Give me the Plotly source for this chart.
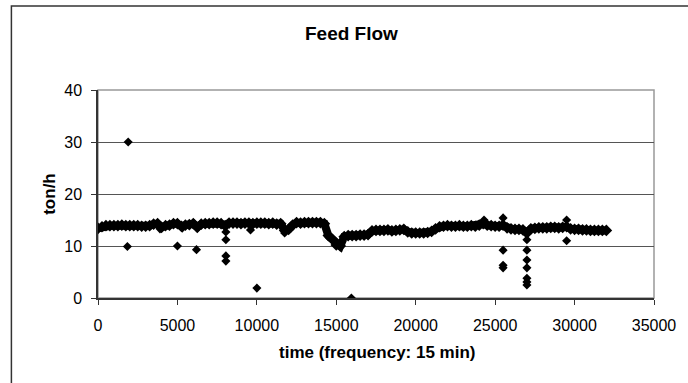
import plotly.graph_objects as go

# Main band of the feed flow series (time index, ton/h)
band_t = [0, 250, 500, 750, 1000, 1250, 1500, 1750, 2000, 2250, 2500, 2750, 3000, 3250, 3500, 3750,
          4000, 4250, 4500, 4750, 5000, 5250, 5500, 5750, 6000, 6250, 6500, 6750, 7000, 7250, 7500, 7750,
          8000, 8250, 8500, 8750, 9000, 9250, 9500, 9750, 10000, 10250, 10500, 10750, 11000, 11250, 11500, 11750,
          12000, 12250, 12500, 12750, 13000, 13250, 13500, 13750, 14000, 14250, 14500, 14750, 15000, 15250, 15500, 15750,
          16000, 16250, 16500, 16750, 17000, 17250, 17500, 17750, 18000, 18250, 18500, 18750, 19000, 19250, 19500, 19750,
          20000, 20250, 20500, 20750, 21000, 21250, 21500, 21750, 22000, 22250, 22500, 22750, 23000, 23250, 23500, 23750,
          24000, 24250, 24500, 24750, 25000, 25250, 25500, 25750, 26000, 26250, 26500, 26750, 27000, 27250, 27500, 27750,
          28000, 28250, 28500, 28750, 29000, 29250, 29500, 29750, 30000, 30250, 30500, 30750, 31000, 31250, 31500, 31750,
          32000]
band_v = [13.4, 13.7, 13.9, 13.9, 13.9, 13.9, 14.0, 13.9, 13.9, 13.9, 13.9, 13.8, 13.8, 13.9, 14.2, 14.3,
          13.6, 13.9, 14.0, 14.3, 14.3, 13.8, 14.0, 14.1, 14.3, 13.6, 14.2, 14.3, 14.3, 14.4, 14.4, 14.3,
          13.9, 14.4, 14.4, 14.4, 14.3, 14.4, 14.4, 14.3, 14.4, 14.4, 14.4, 14.3, 14.4, 14.2, 14.3, 13.0,
          13.2, 14.0, 14.5, 14.4, 14.5, 14.5, 14.5, 14.5, 14.5, 14.3, 12.0, 11.3, 10.2, 10.0, 11.8, 12.0,
          12.0, 12.0, 12.1, 12.1, 12.2, 12.9, 13.0, 13.0, 13.0, 13.1, 12.9, 13.0, 13.1, 13.2, 12.7, 12.5,
          12.5, 12.5, 12.5, 12.6, 12.8, 13.3, 13.7, 13.8, 13.9, 13.8, 13.8, 13.9, 13.8, 13.8, 13.9, 13.8,
          14.0, 14.3, 14.0, 13.9, 13.8, 13.8, 14.0, 13.5, 13.3, 13.2, 13.2, 13.1, 12.5, 13.3, 13.4, 13.5,
          13.5, 13.5, 13.6, 13.6, 13.5, 13.6, 13.7, 13.3, 13.2, 13.2, 13.1, 13.1, 13.0, 13.0, 13.0, 13.0,
          13.0]

# Isolated readings away from the band
out_t = [1900, 1850, 5000, 6200, 3900, 5300, 8050, 8050, 8050, 8050, 9600, 10000, 11750, 14800,
         15950, 24300, 25500, 25500, 25500, 25500, 27000, 27000, 27000, 27000, 27000, 27000, 27000,
         29500, 29500]
out_v = [30.0, 9.9, 10.0, 9.3, 13.3, 13.4, 12.7, 11.2, 8.1, 7.1, 13.1, 1.9, 12.5, 11.0,
         0.0, 15.0, 15.4, 9.2, 6.3, 5.8, 11.2, 9.2, 7.3, 5.8, 3.8, 3.1, 2.5,
         15.0, 11.0]

x_ticks = [0, 5000, 10000, 15000, 20000, 25000, 30000, 35000]
y_ticks = [0, 10, 20, 30, 40]

FONT = "Liberation Sans, Arial, sans-serif"

fig = go.Figure()
fig.add_trace(go.Scatter(x=band_t, y=band_v, mode="lines+markers",
                         line=dict(color="black", width=8),
                         marker=dict(symbol="diamond", size=9, color="black", line=dict(width=0)),
                         showlegend=False, hoverinfo="skip"))
fig.add_trace(go.Scatter(x=out_t, y=out_v, mode="markers",
                         marker=dict(symbol="diamond", size=7, color="black", line=dict(width=0)),
                         showlegend=False, hoverinfo="skip"))

L, R, T, B = 98, 663, 90, 298
W, H = 688, 383

def px(x):
    return (x - L) / (R - L)

def py(y):
    return (B - y) / (B - T)

fig.update_layout(
    width=W, height=H,
    margin=dict(l=L, r=W - R, t=T, b=H - B),
    paper_bgcolor="white", plot_bgcolor="white",
    font=dict(family=FONT, color="black"),
    xaxis=dict(range=[0, 35000], tickvals=x_ticks, ticktext=[str(v) for v in x_ticks],
               showgrid=False, zeroline=False, showline=True, linecolor="#333", linewidth=1.5,
               ticks="outside", ticklen=5, tickcolor="#333", tickwidth=1,
               tickfont=dict(size=16, family=FONT), ticklabelstandoff=7),
    yaxis=dict(range=[0, 40], tickvals=y_ticks, ticktext=[str(v) for v in y_ticks],
               showgrid=True, gridcolor="#555", gridwidth=1, zeroline=False,
               showline=True, linecolor="#333", linewidth=1.5,
               ticks="outside", ticklen=5, tickcolor="#333", tickwidth=1,
               tickfont=dict(size=16, family=FONT), ticklabelstandoff=6),
    shapes=[
        dict(type="rect", xref="paper", yref="paper", x0=0, y0=0, x1=1, y1=1,
             line=dict(color="#999", width=1.5), layer="below"),
        dict(type="rect", xref="paper", yref="paper", x0=px(10), y0=py(6), x1=px(700), y1=py(400),
             line=dict(color="#333", width=1.5), layer="below"),
    ],
    annotations=[
        dict(text="<b>Feed Flow</b>", xref="paper", yref="paper", x=px(356), y=py(33),
             showarrow=False, font=dict(size=19, family=FONT), xanchor="center", yanchor="middle"),
        dict(text="<b>time (frequency: 15 min)</b>", xref="paper", yref="paper", x=px(382), y=py(352),
             showarrow=False, font=dict(size=17, family=FONT), xanchor="center", yanchor="middle"),
        dict(text="<b>ton/h</b>", xref="paper", yref="paper", x=px(48), y=py(194), textangle=-90,
             showarrow=False, font=dict(size=17, family=FONT), xanchor="center", yanchor="middle"),
    ],
)

fig.write_html("out.html")
